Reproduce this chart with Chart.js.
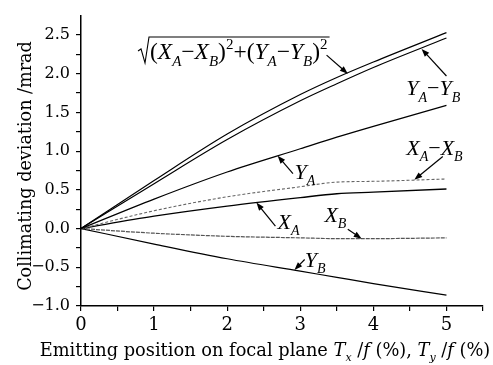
<!DOCTYPE html>
<html><head><meta charset="utf-8">
<script src="https://cdn.jsdelivr.net/npm/chart.js@4"></script>
<style>html,body{margin:0;padding:0;background:#fff}</style>
</head><body>
<canvas id="c" width="493" height="365"></canvas>
<script>
// ---- data ----
const positions = [0, 1, 2, 3, 3.5, 4, 5];           // T/f (%)
const rssDev    = [0, 0.62, 1.22, 1.73, 1.95, 2.15, 2.53];   // sqrt((XA-XB)^2+(YA-YB)^2)
const yaMinusYb = [0, 0.58, 1.15, 1.65, 1.87, 2.08, 2.46];
const yaDev     = [0, 0.38, 0.73, 1.03, 1.18, 1.32, 1.59];
const xaMinusXb = [0, 0.23, 0.41, 0.54, 0.60, 0.61, 0.64];
const xaDev     = [0, 0.16, 0.29, 0.40, 0.45, 0.47, 0.51];
const xbDev     = [0, -0.06, -0.10, -0.12, -0.13, -0.13, -0.12];
const ybDev     = [0, -0.20, -0.39, -0.55, -0.63, -0.71, -0.86];
const xTickLabels = [0, 1, 2, 3, 4, 5];
const yTickLabels = [-1.0, -0.5, 0.0, 0.5, 1.0, 1.5, 2.0, 2.5];

function pts(arr){ return positions.map((x,i)=>({x:x, y:arr[i]})); }

function ds(label, arr, color, dash, width){
  return {label, data: pts(arr), borderColor: color, borderWidth: width||1.2,
    borderDash: dash||[], pointRadius: 0, cubicInterpolationMode:'monotone', fill: false};
}

// rich text: segments {t, s} s: r roman, i italic, sub, sup
function drawRich(ctx, x, y, segs, size, family, align){
  function fontFor(s){
    if (s==='r') return `${size}px ${family}`;
    if (s==='i') return `italic ${size}px ${family}`;
    if (s==='sub') return `italic ${Math.round(size*0.62)}px ${family}`;
    if (s==='sup') return `${Math.round(size*0.62)}px ${family}`;
  }
  let w = 0;
  for (const g of segs){ ctx.font = fontFor(g.s); w += ctx.measureText(g.t).width + (g.k||0); }
  let cx = align==='center' ? x - w/2 : x;
  ctx.textAlign='left'; ctx.textBaseline='alphabetic'; ctx.fillStyle='#000';
  for (const g of segs){
    ctx.font = fontFor(g.s);
    let dy = g.s==='sub' ? size*0.28 : (g.s==='sup' ? -size*0.42 : 0);
    ctx.fillText(g.t, cx, y+dy);
    cx += ctx.measureText(g.t).width + (g.k||0);
  }
  return cx;
}

function arrow(ctx, x1,y1,x2,y2){
  ctx.save();
  ctx.strokeStyle='#000'; ctx.fillStyle='#000'; ctx.lineWidth=1.2;
  const a=Math.atan2(y2-y1,x2-x1), L=8, W=3;
  ctx.beginPath(); ctx.moveTo(x1,y1); ctx.lineTo(x2-Math.cos(a)*L*0.8,y2-Math.sin(a)*L*0.8); ctx.stroke();
  ctx.beginPath(); ctx.moveTo(x2,y2);
  ctx.lineTo(x2-Math.cos(a)*L+Math.sin(a)*W, y2-Math.sin(a)*L-Math.cos(a)*W);
  ctx.lineTo(x2-Math.cos(a)*L-Math.sin(a)*W, y2-Math.sin(a)*L+Math.cos(a)*W);
  ctx.closePath(); ctx.fill();
  ctx.restore();
}

const MF = '"Liberation Serif"';
const TF = '"DejaVu Serif"';
const M = '\u2212';
const AS = 22;

const annot = {
  id:'annot',
  afterDraw(chart){
    const ctx=chart.ctx, sx=chart.scales.x, sy=chart.scales.y;
    const P=(x,y)=>[sx.getPixelForValue(x), sy.getPixelForValue(y)];
    ctx.save();
    // axis titles
    drawRich(ctx, 265, 356, [
      {t:'Emitting position on focal plane ', s:'r'},
      {t:'T', s:'i'},{t:'x', s:'sub'},{t:' /', s:'r'},{t:'f', s:'i'},{t:' (%), ', s:'r'},
      {t:'T', s:'i'},{t:'y', s:'sub'},{t:' /', s:'r'},{t:'f', s:'i'},{t:' (%)', s:'r'}
    ], 17.8, TF, 'center');
    ctx.save(); ctx.translate(31, 166); ctx.rotate(-Math.PI/2);
    drawRich(ctx, 0, 0, [{t:'Collimating deviation /mrad', s:'r'}], 17.6, TF, 'center');
    ctx.restore();

    // sqrt label
    let [lx,ly]=P(0.78,2.19);
    const top = ly-22;
    ctx.strokeStyle='#000'; ctx.lineWidth=1.1;
    const start = lx+12;
    const end = drawRich(ctx, start, ly, [
      {t:'(', s:'r'},{t:'X', s:'i'},{t:'A', s:'sub'},{t:M, s:'r'},{t:'X', s:'i'},{t:'B', s:'sub'},{t:')', s:'r'},{t:'2', s:'sup'},
      {t:'+', s:'r'},{t:'(', s:'r'},{t:'Y', s:'i'},{t:'A', s:'sub'},{t:M, s:'r'},{t:'Y', s:'i'},{t:'B', s:'sub'},{t:')', s:'r'},{t:'2', s:'sup'}
    ], 23.5, MF, 'left');
    ctx.beginPath(); ctx.moveTo(lx, ly-8); ctx.lineTo(lx+3, ly-10); ctx.lineTo(lx+7, ly+4);
    ctx.lineTo(lx+11, top); ctx.lineTo(end+2, top); ctx.stroke();
    arrow(ctx, ...P(3.36,2.24), ...P(3.65,2.0));

    // YA-YB
    drawRich(ctx, ...P(4.45,1.72), [{t:'Y',s:'i'},{t:'A',s:'sub'},{t:M,s:'r'},{t:'Y',s:'i'},{t:'B',s:'sub'}], AS, MF, 'left');
    arrow(ctx, ...P(5.0,1.97), ...P(4.66,2.32));
    // YA
    drawRich(ctx, ...P(2.92,0.64), [{t:'Y',s:'i'},{t:'A',s:'sub'}], AS, MF, 'left');
    arrow(ctx, ...P(2.90,0.71), ...P(2.69,0.94));
    // XA-XB
    drawRich(ctx, ...P(4.45,0.95), [{t:'X',s:'i'},{t:'A',s:'sub'},{t:M,s:'r'},{t:'X',s:'i'},{t:'B',s:'sub'}], AS, MF, 'left');
    arrow(ctx, ...P(4.95,0.93), ...P(4.56,0.63));
    // XA
    drawRich(ctx, ...P(2.69,0.0), [{t:'X',s:'i'},{t:'A',s:'sub'}], AS, MF, 'left');
    arrow(ctx, ...P(2.66,0.03), ...P(2.40,0.335));
    // XB
    drawRich(ctx, ...P(3.33,0.09), [{t:'X',s:'i'},{t:'B',s:'sub'}], AS, MF, 'left');
    arrow(ctx, ...P(3.65,-0.01), ...P(3.84,-0.13));
    // YB
    drawRich(ctx, ...P(3.06,-0.49), [{t:'Y',s:'i'},{t:'B',s:'sub'}], AS, MF, 'left');
    arrow(ctx, ...P(3.06,-0.40), ...P(2.92,-0.535));
    ctx.restore();
  }
};

new Chart(document.getElementById('c'), {
  type:'line',
  data:{ datasets:[
    ds('rss', rssDev, '#000'),
    ds('YA-YB', yaMinusYb, '#000'),
    ds('YA', yaDev, '#000'),
    ds('XA-XB', xaMinusXb, '#666', [3,2], 1.1),
    ds('XA', xaDev, '#000', [], 1.4),
    ds('XB', xbDev, '#555', [4,1], 1.2),
    ds('YB', ybDev, '#000'),
  ]},
  options:{
    responsive:false, animation:false, devicePixelRatio:1,
    layout:{padding:{left:0, right:10, top:7, bottom:0}},
    plugins:{legend:{display:false}, tooltip:{enabled:false}},
    scales:{
      x:{type:'linear', min:0, max:5.5,
        afterFit(s){ s.height = 59; },
        ticks:{stepSize:0.5, autoSkip:false, maxRotation:0, padding:4, color:'#000',
          font:{family:'DejaVu Serif', size:18},
          callback:(v)=> xTickLabels.includes(v) ? String(v) : ''},
        grid:{drawOnChartArea:false, tickLength:5, color:'#000', lineWidth:1.2},
        border:{color:'#000', width:1.5}},
      y:{type:'linear', min:-1, max:2.75,
        afterFit(s){ s.width = 81; },
        ticks:{stepSize:0.25, autoSkip:false, padding:6, color:'#000',
          font:{family:'DejaVu Serif', size:16},
          callback:(v)=> yTickLabels.some(t=>Math.abs(t-v)<1e-9) ? (v<0? M+Math.abs(v).toFixed(1) : v.toFixed(1)) : ''},
        grid:{drawOnChartArea:false, tickLength:5, lineWidth:1.2,
          color:(c)=> (c.tick && Math.abs(c.tick.value-2.75)<1e-9) ? 'rgba(0,0,0,0)' : '#000'},
        border:{color:'#000', width:1.5}}
    }
  },
  plugins:[annot]
});
</script>
</body></html>
